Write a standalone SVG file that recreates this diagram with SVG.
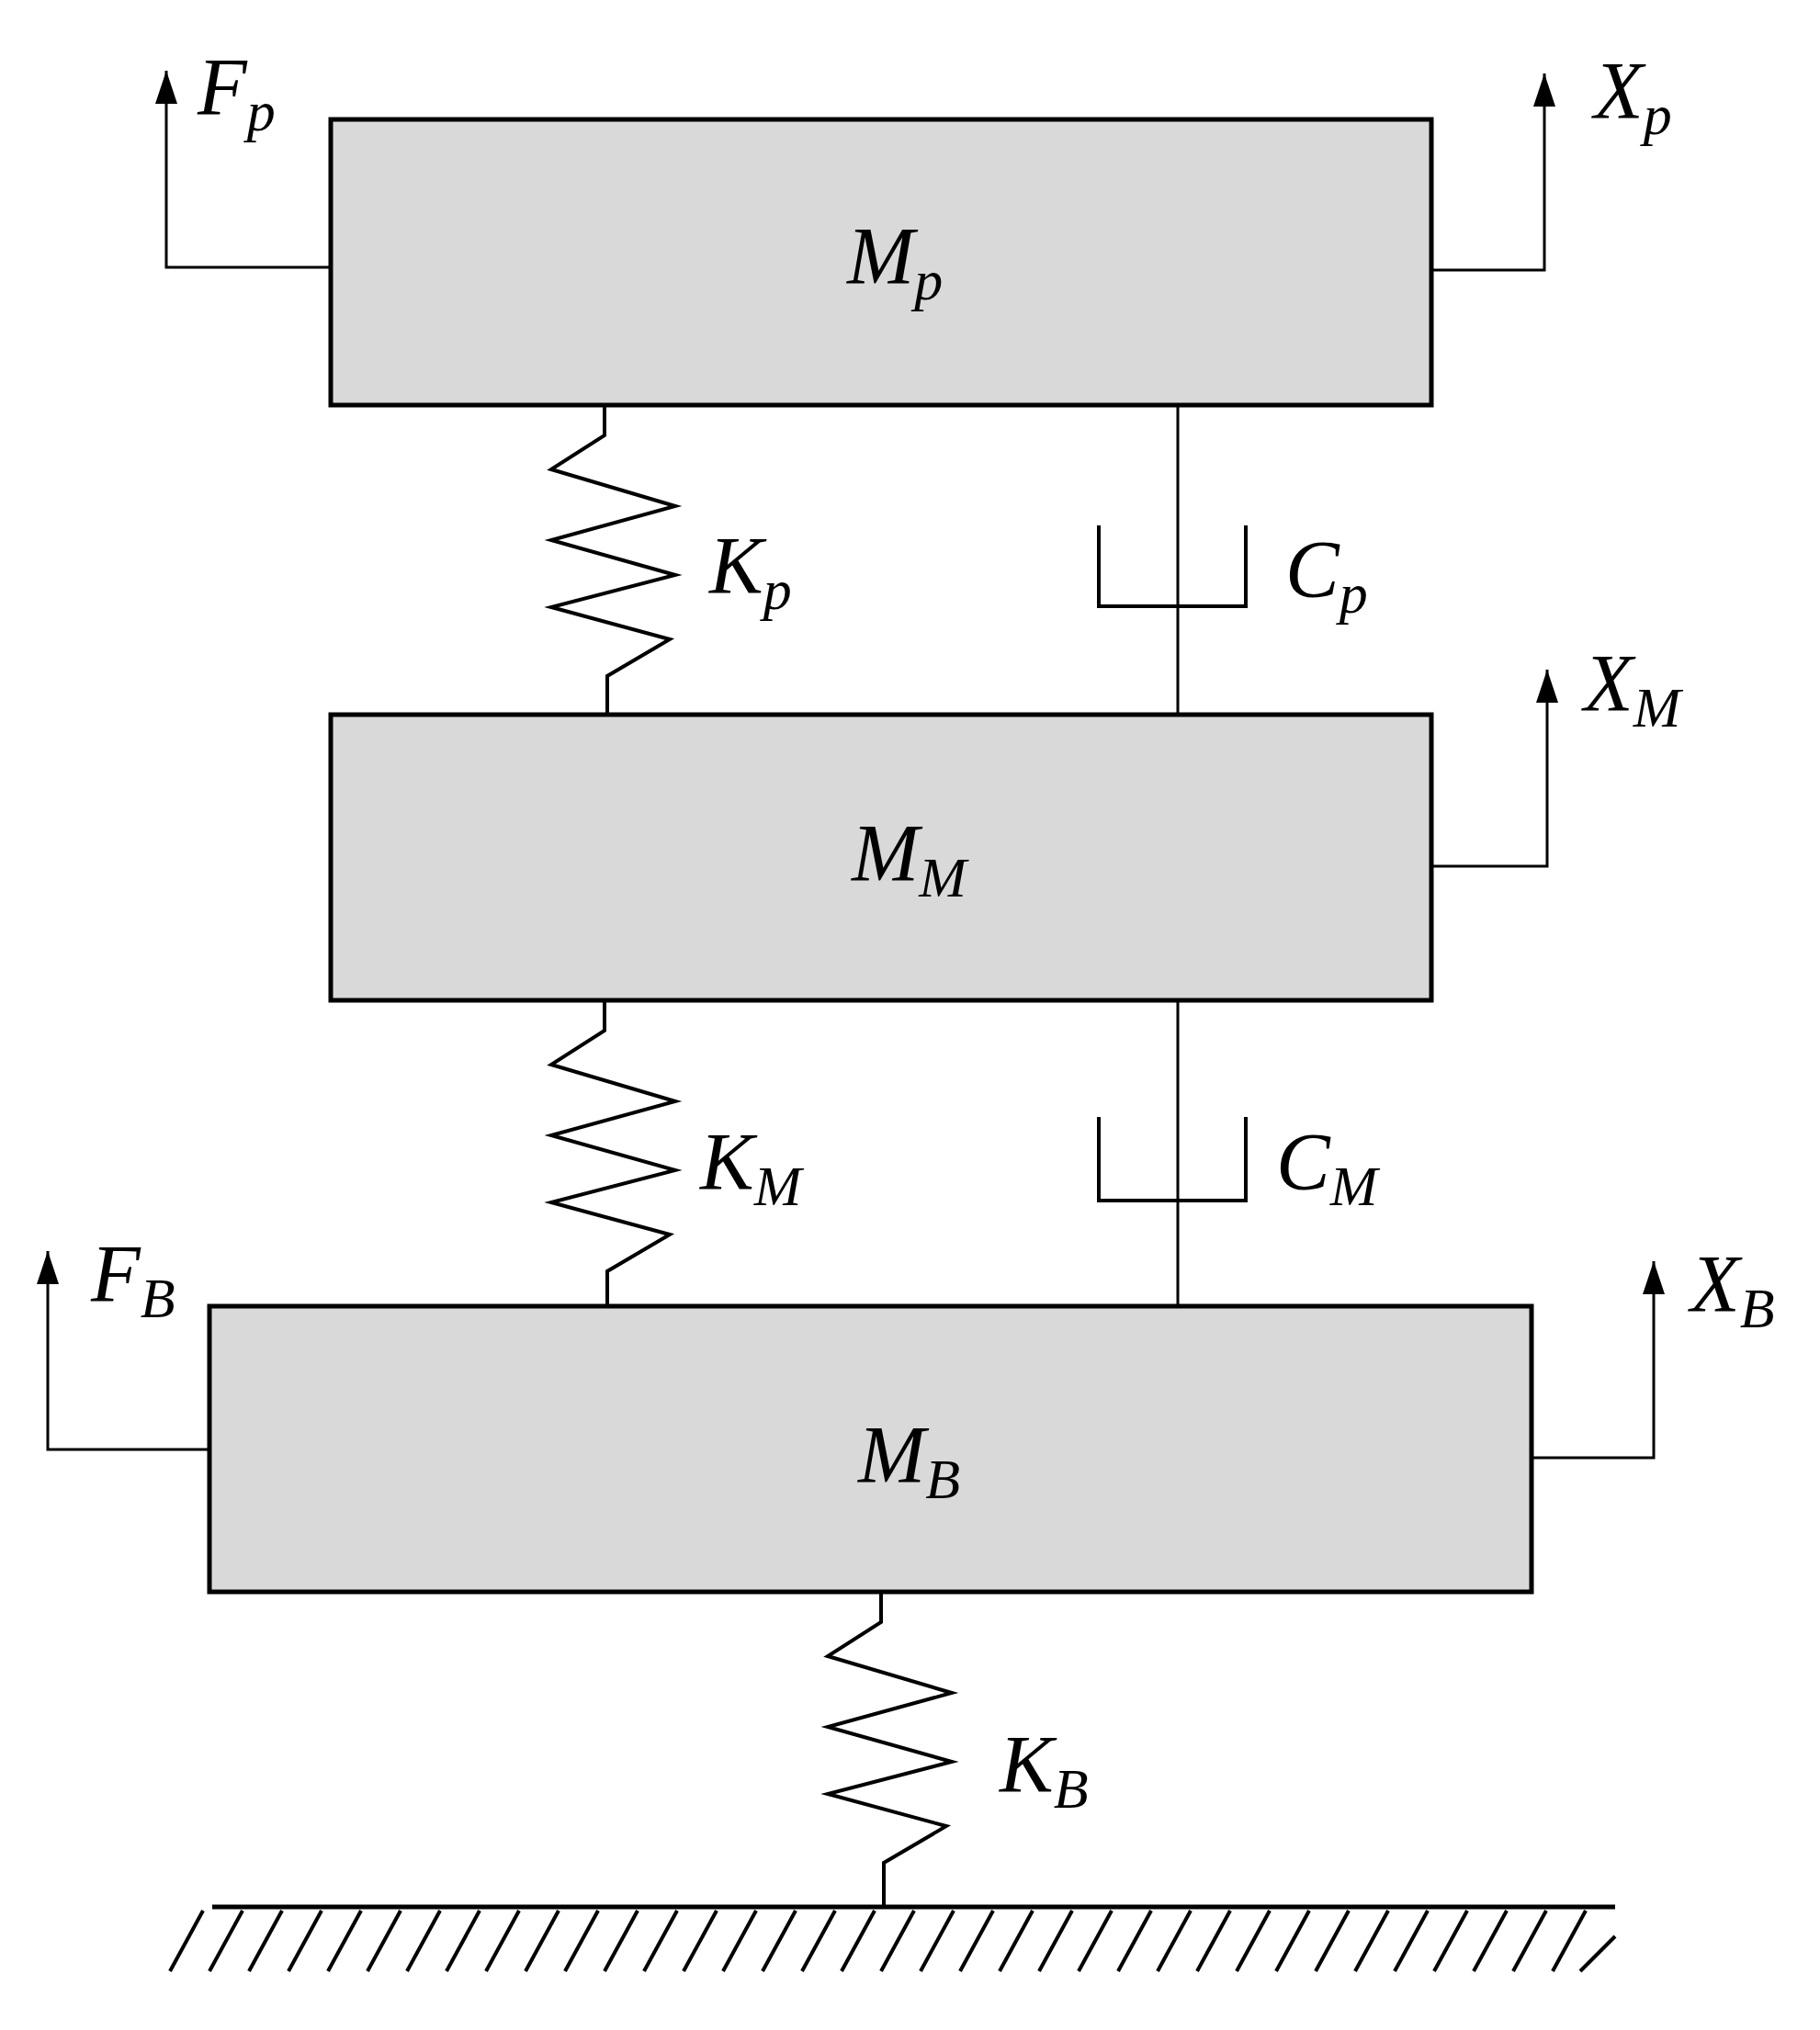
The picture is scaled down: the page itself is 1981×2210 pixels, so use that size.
<svg xmlns="http://www.w3.org/2000/svg" width="1981" height="2210" viewBox="0 0 1981 2210">
<defs>
<style>
.box{fill:#d9d9d9;stroke:#000;stroke-width:5}
.ln{fill:none;stroke:#000;stroke-width:3}
.sp{fill:none;stroke:#000;stroke-width:4;stroke-linejoin:miter}
.lb{font-family:"Liberation Serif",serif;font-style:italic;font-size:88px;fill:#000}
.sb{font-size:62px}
</style>
<marker id="ar" markerWidth="10" markerHeight="12" refX="5" refY="12" orient="auto-start-reverse" markerUnits="userSpaceOnUse" viewBox="0 0 10 12">
<path d="M0,12 L5,0 L10,12 Z" fill="#000"/>
</marker>
<marker id="ah" viewBox="0 0 24 36" markerWidth="24" markerHeight="36" refX="12" refY="0" markerUnits="userSpaceOnUse" orient="0">
<path d="M0,36 L12,0 L24,36 Z" fill="#000"/>
</marker>
<g id="hatch"><line x1="0" y1="0" x2="-36" y2="66" class="ln" style="stroke-width:4"/></g>
</defs>
<rect width="1981" height="2210" fill="#fff"/>
<g id="connectors">
<polyline class="ln" points="360,291 181,291 181,77" marker-end="url(#ah)"/>
<polyline class="ln" points="1558,294 1681,294 1681,80" marker-end="url(#ah)"/>
<polyline class="ln" points="1558,943 1684,943 1684,729" marker-end="url(#ah)"/>
<polyline class="ln" points="228,1578 52,1578 52,1362" marker-end="url(#ah)"/>
<polyline class="ln" points="1667,1587 1800,1587 1800,1373" marker-end="url(#ah)"/>
<g id="Kp"><polyline class="sp" points="658,441 658,474 600,511 735,551 600,588 735,626 600,661 729,696 661,736 661,778"/></g>
<g id="KM" transform="translate(0,648)"><polyline class="sp" points="658,441 658,474 600,511 735,551 600,588 735,626 600,661 729,696 661,736 661,774"/></g>
<g id="KB" transform="translate(301,1292)"><polyline class="sp" points="658,441 658,474 600,511 735,551 600,588 735,626 600,661 729,696 661,736 661,784"/></g>
<g id="Cp"><line class="ln" x1="1282" y1="441" x2="1282" y2="778"/><polyline class="sp" points="1196,572 1196,660 1356,660 1356,572"/></g>
<g id="CM"><line class="ln" x1="1282" y1="1089" x2="1282" y2="1422"/><polyline class="sp" points="1196,1216 1196,1307 1356,1307 1356,1216"/></g>
</g>
<g id="ground">
<line x1="231" y1="2076" x2="1758" y2="2076" stroke="#000" stroke-width="5"/>
<use href="#hatch" x="221" y="2080"/><use href="#hatch" x="264" y="2080"/><use href="#hatch" x="307" y="2080"/><use href="#hatch" x="350" y="2080"/><use href="#hatch" x="393" y="2080"/><use href="#hatch" x="436" y="2080"/><use href="#hatch" x="479" y="2080"/><use href="#hatch" x="522" y="2080"/><use href="#hatch" x="565" y="2080"/><use href="#hatch" x="608" y="2080"/><use href="#hatch" x="651" y="2080"/><use href="#hatch" x="694" y="2080"/><use href="#hatch" x="737" y="2080"/><use href="#hatch" x="780" y="2080"/><use href="#hatch" x="823" y="2080"/><use href="#hatch" x="866" y="2080"/><use href="#hatch" x="909" y="2080"/><use href="#hatch" x="952" y="2080"/><use href="#hatch" x="995" y="2080"/><use href="#hatch" x="1038" y="2080"/><use href="#hatch" x="1081" y="2080"/><use href="#hatch" x="1124" y="2080"/><use href="#hatch" x="1167" y="2080"/><use href="#hatch" x="1210" y="2080"/><use href="#hatch" x="1253" y="2080"/><use href="#hatch" x="1296" y="2080"/><use href="#hatch" x="1339" y="2080"/><use href="#hatch" x="1382" y="2080"/><use href="#hatch" x="1425" y="2080"/><use href="#hatch" x="1468" y="2080"/><use href="#hatch" x="1511" y="2080"/><use href="#hatch" x="1554" y="2080"/><use href="#hatch" x="1597" y="2080"/><use href="#hatch" x="1640" y="2080"/><use href="#hatch" x="1683" y="2080"/><use href="#hatch" x="1726" y="2080"/>
<line x1="1758" y1="2108" x2="1720" y2="2146" stroke="#000" stroke-width="4"/>
</g>
<g id="Mp"><rect class="box" x="360" y="130" width="1198" height="311"/><text class="lb" x="922" y="308">M<tspan class="sb" dy="18">p</tspan></text></g>
<g id="MM"><rect class="box" x="360" y="778" width="1198" height="311"/><text class="lb" x="927" y="958">M<tspan class="sb" dy="18">M</tspan></text></g>
<g id="MB"><rect class="box" x="228" y="1422" width="1439" height="311"/><text class="lb" x="934" y="1613">M<tspan class="sb" dy="18">B</tspan></text></g>
<g id="labels">
<text class="lb" x="215" y="124">F<tspan class="sb" dy="18">p</tspan></text>
<text class="lb" x="1735" y="128">X<tspan class="sb" dy="18">p</tspan></text>
<text class="lb" x="772" y="645">K<tspan class="sb" dy="18">p</tspan></text>
<text class="lb" x="1399" y="649">C<tspan class="sb" dy="18">p</tspan></text>
<text class="lb" x="1724" y="773">X<tspan class="sb" dy="18">M</tspan></text>
<text class="lb" x="762" y="1294">K<tspan class="sb" dy="18">M</tspan></text>
<text class="lb" x="1389" y="1294">C<tspan class="sb" dy="18">M</tspan></text>
<text class="lb" x="99" y="1416">F<tspan class="sb" dy="18">B</tspan></text>
<text class="lb" x="1840" y="1427">X<tspan class="sb" dy="18">B</tspan></text>
<text class="lb" x="1088" y="1950">K<tspan class="sb" dy="18">B</tspan></text>
</g>
</svg>
